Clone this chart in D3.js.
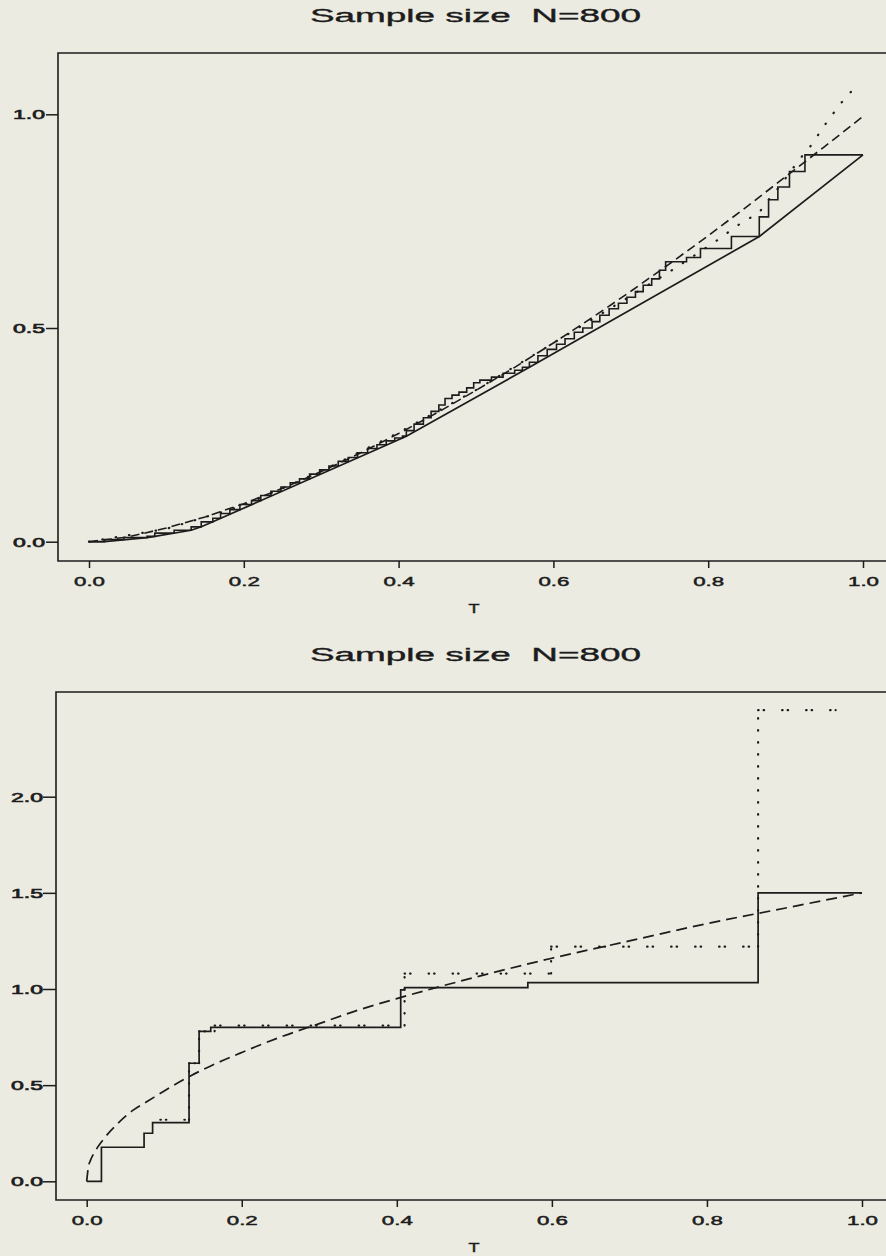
<!DOCTYPE html>
<html><head><meta charset="utf-8">
<script src="https://cdn.jsdelivr.net/npm/d3@7"></script>
<style>
html,body{margin:0;padding:0;background:#ebebe1;}
svg{display:block;}
text{font-family:"Liberation Sans",Arial,Helvetica,sans-serif;fill:#1c1c1c;}
</style></head><body>
<svg id="c" width="886" height="1256"></svg>
<script>
// ---------- data ----------
const titleText = "Sample size  N=800";
const xLabel = "T";
const xTicks = [0, 0.2, 0.4, 0.6, 0.8, 1.0];
const yTicksTop = [0, 0.5, 1.0];
const yTicksBottom = [0, 0.5, 1.0, 1.5, 2.0];

// top panel: true cumulative function (dashed)
const topTrueT = [0,0.05,0.1,0.15,0.2,0.25,0.3,0.35,0.4,0.45,0.5,0.55,0.6,0.65,0.7,0.75,0.8,0.85,0.9,0.95,1.0];
const topTrueV = [0,0.011,0.032,0.058,0.089,0.125,0.164,0.207,0.253,0.302,0.354,0.408,0.465,0.524,0.586,0.65,0.716,0.784,0.854,0.924,0.995];
// top panel: empirical step estimate (solid staircase)
const topStepT = [0,0.02,0.045,0.075,0.085,0.11,0.132,0.145,0.16,0.17,0.182,0.195,0.21,0.222,0.235,0.248,0.26,0.272,0.285,0.298,0.31,0.322,0.335,0.347,0.36,0.372,0.384,0.395,0.405,0.41,0.42,0.432,0.442,0.452,0.46,0.469,0.478,0.488,0.497,0.505,0.52,0.535,0.55,0.56,0.569,0.58,0.592,0.604,0.615,0.627,0.638,0.65,0.66,0.672,0.684,0.695,0.706,0.716,0.727,0.737,0.745,0.772,0.79,0.83,0.866,0.878,0.89,0.905,0.925,1.0];
const topStepV = [0,0.005,0.0097,0.0125,0.02,0.0268,0.0348,0.0465,0.055,0.066,0.075,0.087,0.096,0.108,0.118,0.128,0.138,0.147,0.158,0.168,0.177,0.188,0.197,0.208,0.218,0.227,0.236,0.2425,0.247,0.26,0.275,0.29,0.305,0.32,0.335,0.343,0.35,0.36,0.372,0.378,0.385,0.394,0.401,0.408,0.42,0.435,0.45,0.462,0.475,0.49,0.5,0.515,0.53,0.545,0.558,0.572,0.585,0.6,0.615,0.635,0.655,0.665,0.686,0.714,0.76,0.80,0.83,0.866,0.905,0.905];
// top panel: convex minorant (solid, piecewise linear)
const topGcmT = [0,0.02,0.075,0.085,0.132,0.145,0.16,0.405,0.41,0.569,0.866,1.0];
const topGcmV = [0,0,0.0097,0.0125,0.0268,0.0348,0.0465,0.2425,0.247,0.408,0.714,0.905];
// top panel: alternative estimate (dotted)
const topDotT = [0,0.1,0.2,0.3,0.4,0.5,0.6,0.7,0.753,0.789,0.809,0.845,0.865,0.876,0.887,0.908,0.919,0.93,0.94,0.949,0.96,0.97,0.982,0.993];
const topDotV = [0,0.03,0.085,0.165,0.255,0.355,0.465,0.575,0.635,0.678,0.702,0.749,0.768,0.796,0.819,0.87,0.897,0.92,0.946,0.971,0.998,1.023,1.047,1.072];

// bottom panel: step estimate (solid)
const botStepT = [0,0.019,0.074,0.085,0.132,0.145,0.16,0.405,0.41,0.569,0.866,1.0];
const botStepV = [0,0.177,0.25,0.305,0.614,0.78,0.80,0.995,1.007,1.033,1.50,1.50];
// bottom panel: true function (dashed)
const botTrueT = [0,0.002,0.005,0.01,0.02,0.04,0.06,0.08,0.10,0.13,0.16,0.2,0.25,0.3,0.35,0.4,0.5,0.6,0.7,0.8,0.9,1.0];
const botTrueV = [0,0.07,0.11,0.15,0.21,0.30,0.37,0.42,0.47,0.54,0.60,0.67,0.75,0.82,0.89,0.95,1.06,1.16,1.25,1.34,1.42,1.50];
// bottom panel: alternative estimate (dotted step)
const botDotT = [0.095,0.132,0.145,0.165,0.41,0.599,0.866,0.966];
const botDotV = [0.32,0.614,0.78,0.81,1.08,1.22,2.45,2.45];

// ---------- drawing ----------
const ink = "#1c1c1c";
const svg = d3.select("#c");
svg.append("rect").attr("width",886).attr("height",1256).attr("fill","#ebebe1");

const zip = (a,b) => a.map((v,i)=>[v,b[i]]);

function thick(sel, w){ return sel.attr("stroke",ink).attr("stroke-width",w).attr("paint-order","stroke"); }

function panel(cfg){
  const x = d3.scaleLinear().domain([0,1]).range(cfg.xr);
  const y = d3.scaleLinear().domain([0,1]).range(cfg.yr);
  const g = svg.append("g");
  const [fl,ft,fr,fb] = cfg.frame;

  // title
  thick(g.append("text").attr("x",(310+641)/2).attr("y",cfg.titleY)
    .attr("text-anchor","middle").attr("font-size",18)
    .attr("textLength",331).attr("lengthAdjust","spacingAndGlyphs")
    .style("white-space","pre").text(titleText), 0.35);

  // frame
  g.append("path").attr("d",`M${fr},${ft}H${fl}V${fb}H${fr}`)
    .attr("fill","none").attr("stroke",ink).attr("stroke-width",1.6);

  // x axis
  const xa = g.append("g").attr("transform",`translate(0,${fb})`)
    .call(d3.axisBottom(x).tickValues(xTicks).tickSize(7).tickFormat(d3.format(".1f")));
  xa.select(".domain").remove();
  xa.selectAll("line").attr("stroke",ink).attr("stroke-width",1.5);
  thick(xa.selectAll("text").attr("y",cfg.xLabY - fb).attr("dy",0)
    .attr("font-size",12.5).attr("fill",ink).attr("font-family",null)
    .attr("textLength",31).attr("lengthAdjust","spacingAndGlyphs"), 0.45);

  // y axis
  const ya = g.append("g").attr("transform",`translate(${fl},0)`)
    .call(d3.axisLeft(y).tickValues(cfg.yTicks).tickSize(cfg.yTick).tickFormat(d3.format(".1f")));
  ya.select(".domain").remove();
  ya.selectAll("line").attr("stroke",ink).attr("stroke-width",1.5);
  thick(ya.selectAll("text").attr("x",-(fl-cfg.yLabR)).attr("dy","0.36em")
    .attr("font-size",12).attr("fill",ink).attr("font-family",null)
    .attr("textLength",32).attr("lengthAdjust","spacingAndGlyphs"), 0.6);

  // x label
  thick(g.append("text").attr("x",474).attr("y",cfg.tY).attr("text-anchor","middle")
    .attr("font-size",12.5).attr("textLength",11).attr("lengthAdjust","spacingAndGlyphs").text(xLabel), 0.4);

  return {g,x,y};
}

// top panel
const P1 = panel({xr:[89,863], yr:[541.7,114.3], frame:[58,53,900,561],
  titleY:22, xLabY:586, yTicks:yTicksTop, yTick:12, yLabR:45, tY:613});
{
  const {g,x,y} = P1;
  const lin = d3.line().x(d=>x(d[0])).y(d=>y(d[1]));
  const stp = d3.line().x(d=>x(d[0])).y(d=>y(d[1])).curve(d3.curveStepAfter);
  g.append("path").attr("d",lin(zip(topTrueT,topTrueV))).attr("fill","none")
    .attr("stroke",ink).attr("stroke-width",1.6).attr("stroke-dasharray","9,5");
  g.append("path").attr("d",lin(zip(topDotT,topDotV))).attr("fill","none")
    .attr("stroke",ink).attr("stroke-width",2.2).attr("stroke-linecap","round").attr("stroke-dasharray","0.5,13");
  g.append("path").attr("d",stp(zip(topStepT,topStepV))).attr("fill","none")
    .attr("stroke",ink).attr("stroke-width",1.6);
  g.append("path").attr("d",lin(zip(topGcmT,topGcmV))).attr("fill","none")
    .attr("stroke",ink).attr("stroke-width",1.7);
}

// bottom panel
const P2 = panel({xr:[86.7,862], yr:[1181.3,989], frame:[56,692,900,1200],
  titleY:661, xLabY:1225, yTicks:yTicksBottom, yTick:13, yLabR:43, tY:1252});
{
  const {g,x,y} = P2;
  const lin = d3.line().x(d=>x(d[0])).y(d=>y(d[1])).curve(d3.curveMonotoneX);
  const stp = d3.line().x(d=>x(d[0])).y(d=>y(d[1])).curve(d3.curveStepAfter);
  g.append("path").attr("d",lin(zip(botTrueT,botTrueV))).attr("fill","none")
    .attr("stroke",ink).attr("stroke-width",1.7).attr("stroke-dasharray","11,6");
  // dotted step drawn segment by segment (horizontal runs have wider dot spacing)
  const pts = zip(botDotT, botDotV);
  const segs = [];
  for (let i = 0; i < pts.length - 1; i++) {
    segs.push({h:true,  a:[pts[i][0], pts[i][1]],   b:[pts[i+1][0], pts[i][1]]});
    if (pts[i+1][1] !== pts[i][1])
      segs.push({h:false, a:[pts[i+1][0], pts[i][1]], b:[pts[i+1][0], pts[i+1][1]]});
  }
  g.selectAll("line.dot").data(segs).join("line").attr("class","dot")
    .attr("x1",d=>x(d.a[0])).attr("y1",d=>y(d.a[1]))
    .attr("x2",d=>x(d.b[0])).attr("y2",d=>y(d.b[1]))
    .attr("stroke",ink).attr("stroke-width",2.2).attr("stroke-linecap","round")
    .attr("stroke-dasharray",d=>d.h ? "0.5,5,0.5,18" : "0.5,11.5");
  g.append("path").attr("d",stp(zip(botStepT,botStepV))).attr("fill","none")
    .attr("stroke",ink).attr("stroke-width",1.7);
}
</script></body></html>
